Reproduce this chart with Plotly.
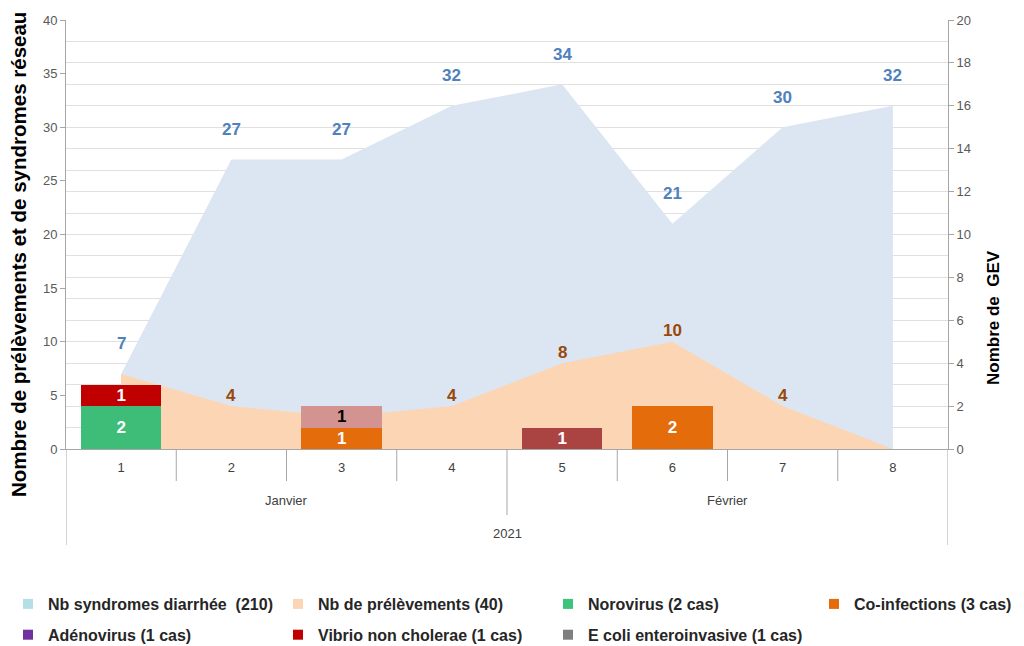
import plotly.graph_objects as go

weeks = [1, 2, 3, 4, 5, 6, 7, 8]
week_labels = ["1", "2", "3", "4", "5", "6", "7", "8"]
months = ["Janvier", "Février"]
year = "2021"

syndromes = [7, 27, 27, 32, 34, 21, 30, 32]
prelevements = [7, 4, 3, 4, 8, 10, 4, 0]
prel_label_shown = [False, True, False, True, True, True, True, False]

norovirus = [2, None, None, None, None, None, None, None]
coinfections = [None, None, 1, None, None, 2, None, None]
adenovirus = [None, None, None, None, 1, None, None, None]
vibrio = [1, None, None, None, None, None, None, None]
ecoli = [None, None, 1, None, None, None, None, None]

legend_names = ["Nb syndromes diarrhée  (210)", "Nb de prélèvements (40)", "Norovirus (2 cas)",
                "Co-infections (3 cas)", "Adénovirus (1 cas)", "Vibrio non cholerae (1 cas)",
                "E coli enteroinvasive (1 cas)"]
legend_colors = ["#b7dde8", "#fcd5b5", "#3cc47c", "#e46c0a", "#7030a0", "#c00000", "#7f7f7f"]

# the page body adds an 8px offset; size the figure so it fills the 1024x646 window
OFF = 8
W, H = 1024 - OFF, 646 - OFF
L, R, T, B = 66 - OFF, 76, 20 - OFF, 197
PW, PH = W - L - R, H - T - B
PLOT_BOTTOM = H - B  # figure px


def px_x(ref_x):
    return (ref_x - OFF - L) / PW


def px_y(ref_y):
    return (PLOT_BOTTOM - (ref_y - OFF)) / PH


fig = go.Figure()

fig.add_trace(go.Scatter(x=weeks, y=syndromes, mode="lines", fill="tozeroy",
                         line=dict(width=0, color="#dce6f2"), fillcolor="#dce6f2",
                         showlegend=False, hoverinfo="skip"))
fig.add_trace(go.Scatter(x=weeks, y=prelevements, mode="lines", fill="tozeroy",
                         line=dict(width=0, color="#fcd5b5"), fillcolor="#fcd5b5",
                         showlegend=False, hoverinfo="skip"))

bar_series = [
    (norovirus, "#3dbd77", "white"),
    (coinfections, "#e46c0a", "white"),
    (adenovirus, "#a94442", "white"),
    (vibrio, "#c00000", "white"),
    (ecoli, "#d39391", "black"),
]
for vals, col, tcol in bar_series:
    fig.add_trace(go.Bar(x=weeks, y=vals, yaxis="y2", marker=dict(color=col, line=dict(width=0)),
                         width=0.73, text=[("" if v is None else str(v)) for v in vals],
                         textposition="inside", insidetextanchor="middle", textangle=0,
                         constraintext="none", cliponaxis=False,
                         textfont=dict(color=tcol, size=17, family="Liberation Sans", weight="bold"),
                         showlegend=False, hoverinfo="skip"))

col_of = [0, 1, 2, 3, 0, 1, 2]
legend_ids = ["legend", "legend2", "legend3", "legend4"]
for i, (nm, col) in enumerate(zip(legend_names, legend_colors)):
    fig.add_trace(go.Scatter(x=[None], y=[None], mode="markers", name=nm,
                             marker=dict(symbol="square", size=10, color=col),
                             legend=legend_ids[col_of[i]], legendgroup="g%d" % i,
                             showlegend=True, legendrank=i + 1))

annotations = []
for w, v in zip(weeks, syndromes):
    annotations.append(dict(x=w, y=v, xref="x", yref="y", text=str(v), showarrow=False,
                            yanchor="middle", yshift=30,
                            font=dict(size=17, color="#4f81bd", family="Liberation Sans", weight="bold")))
for w, v, s in zip(weeks, prelevements, prel_label_shown):
    if s:
        annotations.append(dict(x=w, y=v, xref="x", yref="y", text=str(v), showarrow=False,
                                yanchor="middle", yshift=11,
                                font=dict(size=17, color="#984807", family="Liberation Sans", weight="bold")))

lab_font = dict(size=13, color="#404040", family="Liberation Sans")
annotations.append(dict(x=2.5, y=px_y(500), xref="x", yref="paper", text=months[0],
                        showarrow=False, yanchor="middle", font=lab_font))
annotations.append(dict(x=6.5, y=px_y(500), xref="x", yref="paper", text=months[1],
                        showarrow=False, yanchor="middle", font=lab_font))
annotations.append(dict(x=4.5, y=px_y(533), xref="x", yref="paper", text=year,
                        showarrow=False, yanchor="middle", font=lab_font))

annotations.append(dict(x=px_x(18), xref="paper", y=px_y(255), yref="paper",
                        text="Nombre de prélèvements et de syndromes réseau", textangle=-90,
                        showarrow=False, xanchor="center", yanchor="middle",
                        font=dict(size=20.5, color="#000000", family="Liberation Sans", weight="bold")))
annotations.append(dict(x=px_x(993), xref="paper", y=px_y(318), yref="paper",
                        text="Nombre de  GEV", textangle=-90, showarrow=False,
                        xanchor="center", yanchor="middle",
                        font=dict(size=17, color="#000000", family="Liberation Sans", weight="bold")))

shapes = []
grey = "#a6a6a6"
for k in range(9):
    xb = 0.5 + k
    if k in (0, 8):
        y1 = px_y(545)
    elif k == 4:
        y1 = px_y(515)
    else:
        y1 = px_y(481)
    shapes.append(dict(type="line", xref="x", yref="paper", x0=xb, x1=xb, y0=0, y1=y1,
                       line=dict(color=grey, width=1)))

leg_font = dict(size=16, color="#262626", family="Liberation Sans", weight="bold")
leg_x = [0, 270, 540, 806]
legends = {}
for j, lid in enumerate(legend_ids):
    legends[lid] = dict(orientation="v", xref="container", yref="container",
                        x=leg_x[j] / W, xanchor="left", y=1 - (587 - OFF) / H, yanchor="top",
                        font=leg_font, tracegroupgap=7, itemsizing="trace",
                        bgcolor="rgba(0,0,0,0)")

fig.update_layout(
    width=W, height=H,
    margin=dict(l=L, r=R, t=T, b=B, autoexpand=False),
    paper_bgcolor="white", plot_bgcolor="white",
    barmode="stack",
    font=dict(family="Liberation Sans", size=13, color="#404040"),
    xaxis=dict(range=[0.5, 8.5], tickvals=weeks, ticktext=week_labels, showgrid=False,
               showline=True, linecolor=grey, linewidth=1, ticks="", zeroline=False,
               ticklabelstandoff=6, tickfont=lab_font),
    yaxis=dict(range=[0, 40], dtick=5, showgrid=False,
               showline=True, linecolor=grey, linewidth=1, ticks="outside", ticklen=5,
               tickcolor=grey, zeroline=False, tickfont=dict(size=13, color="#595959")),
    yaxis2=dict(range=[0, 20], dtick=2, overlaying="y", side="right",
                showgrid=True, gridcolor="#e0e0e0", gridwidth=1,
                minor=dict(dtick=1, showgrid=True, gridcolor="#e0e0e0"),
                showline=True, linecolor=grey, linewidth=1, ticks="outside", ticklen=5,
                tickcolor=grey, zeroline=False, tickfont=dict(size=13, color="#595959")),
    annotations=annotations,
    shapes=shapes,
    **legends,
)

fig.write_html("out.html")
